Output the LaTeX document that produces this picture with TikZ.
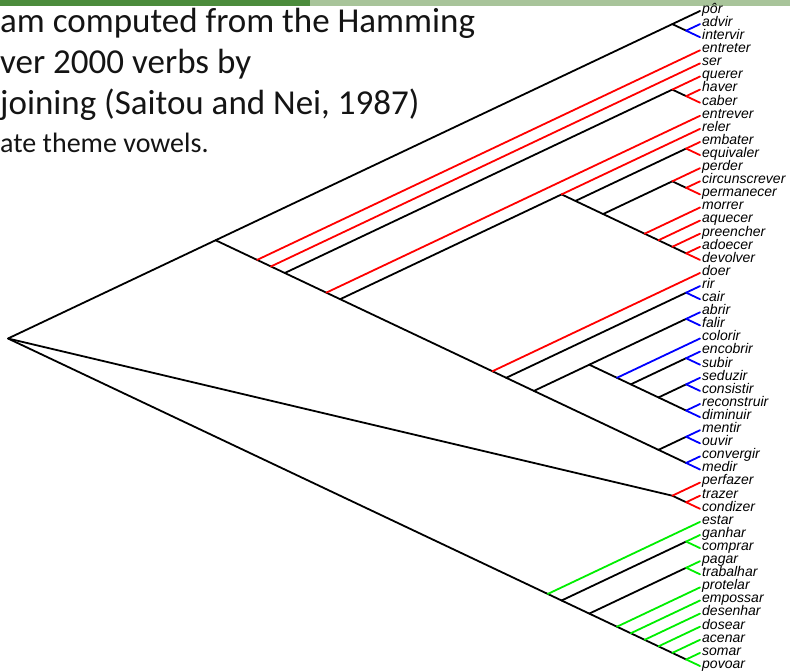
\documentclass[tikz,border=0pt]{standalone}
\usepackage{fontspec}
\setmainfont{Carlito}
\newfontfamily\leaffont{Liberation Sans}
\definecolor{barDark}{HTML}{4C8C3C}
\definecolor{barLight}{HTML}{A8C49A}
\definecolor{capText}{HTML}{141414}
\definecolor{verbEr}{HTML}{FF0000}
\definecolor{verbIr}{HTML}{0000FF}
\definecolor{verbAr}{HTML}{00EE00}
\tikzset{
  branch/.style={line width=1.8pt, line cap=round, black},
  leaf/.style={font=\leaffont\itshape\fontsize{14}{14}\selectfont, anchor=mid west,
               inner xsep=2pt, inner ysep=0pt},
  captionline/.style={anchor=base west, inner sep=0pt, text=capText},
}
\begin{document}
\begin{tikzpicture}[x=1pt,y=-1pt]
\useasboundingbox (0,0) rectangle (790,671);

% header bar
\fill[barDark] (0,0) rectangle (310,6);
\fill[barLight] (310,0) rectangle (790,6);

% caption text
\node[captionline, font=\fontsize{35}{35}\selectfont] (cap1) at (0,33) {am computed from the Hamming};
\node[captionline, font=\fontsize{35}{35}\selectfont] (cap2) at (0,74) {ver 2000 verbs by};
\node[captionline, font=\fontsize{35}{35}\selectfont] (cap3) at (0,115) {joining (Saitou and Nei, 1987)};
\node[captionline, font=\fontsize{28}{28}\selectfont] (cap4) at (0,153) {ate theme vowels.};

% leaves: tip at x=700, evenly spaced
\foreach \w [count=\i from 0] in {pôr, advir, intervir, entreter, ser, querer, haver, caber,
    entrever, reler, embater, equivaler, perder, circunscrever, permanecer, morrer, aquecer,
    preencher, adoecer, devolver, doer, rir, cair, abrir, falir, colorir, encobrir, subir,
    seduzir, consistir, reconstruir, diminuir, mentir, ouvir, convergir, medir, perfazer,
    trazer, condizer, estar, ganhar, comprar, pagar, trabalhar, protelar, empossar,
    desenhar, dosear, acenar, somar, povoar}
  \node[leaf] (v\i) at (700,{11+13.1*\i}) {\w};

% internal nodes of the cladogram, named by the range of tips they span
\foreach \a/\b in {0/50, 0/35, 0/2, 1/2, 3/35, 4/35, 5/35, 5/7, 6/7, 8/35, 9/35, 9/19,
    10/19, 10/11, 12/19, 12/14, 13/14, 15/19, 16/19, 17/19, 18/19, 20/35, 21/35, 21/22,
    23/35, 23/31, 23/24, 25/31, 26/31, 26/27, 28/31, 28/29, 30/31, 32/35, 32/33, 34/35,
    36/38, 37/38, 39/50, 40/50, 40/41, 42/50, 42/43, 44/50, 45/50, 46/50, 47/50, 48/50, 49/50}
  \coordinate (c\a-\b) at ({700-13.84*(\b-\a)},{11+6.55*(\a+\b)});

% internal branches
\foreach \p/\q in {0-50/0-35, 0-50/36-38, 0-50/39-50, 0-35/0-2, 0-35/3-35, 0-2/1-2,
    3-35/4-35, 4-35/5-35, 5-35/5-7, 5-35/8-35, 5-7/6-7, 8-35/9-35, 9-35/9-19, 9-35/20-35,
    9-19/10-19, 10-19/10-11, 10-19/12-19, 12-19/12-14, 12-19/15-19, 12-14/13-14,
    15-19/16-19, 16-19/17-19, 17-19/18-19, 20-35/21-35, 21-35/21-22, 21-35/23-35,
    23-35/23-31, 23-35/32-35, 23-31/23-24, 23-31/25-31, 25-31/26-31, 26-31/26-27,
    26-31/28-31, 28-31/28-29, 28-31/30-31, 32-35/32-33, 32-35/34-35, 36-38/37-38,
    39-50/40-50, 40-50/40-41, 40-50/42-50, 42-50/42-43, 42-50/44-50, 44-50/45-50,
    45-50/46-50, 46-50/47-50, 47-50/48-50, 48-50/49-50}
  \draw[branch] (c\p) -- (c\q);

% terminal branches, coloured by theme vowel
\foreach \p/\i/\col in {0-2/0/black, 1-2/1/verbIr, 1-2/2/verbIr,
    3-35/3/verbEr, 4-35/4/verbEr, 5-7/5/verbEr, 6-7/6/verbEr, 6-7/7/verbEr,
    8-35/8/verbEr, 9-19/9/verbEr, 10-11/10/verbEr, 10-11/11/verbEr, 12-14/12/verbEr,
    13-14/13/verbEr, 13-14/14/verbEr, 15-19/15/verbEr, 16-19/16/verbEr, 17-19/17/verbEr,
    18-19/18/verbEr, 18-19/19/verbEr, 20-35/20/verbEr,
    21-22/21/verbIr, 21-22/22/verbIr, 23-24/23/verbIr, 23-24/24/verbIr, 25-31/25/verbIr,
    26-27/26/verbIr, 26-27/27/verbIr, 28-29/28/verbIr, 28-29/29/verbIr, 30-31/30/verbIr,
    30-31/31/verbIr, 32-33/32/verbIr, 32-33/33/verbIr, 34-35/34/verbIr, 34-35/35/verbIr,
    36-38/36/verbEr, 37-38/37/verbEr, 37-38/38/verbEr,
    39-50/39/verbAr, 40-41/40/verbAr, 40-41/41/verbAr, 42-43/42/verbAr, 42-43/43/verbAr,
    44-50/44/verbAr, 45-50/45/verbAr, 46-50/46/verbAr, 47-50/47/verbAr, 48-50/48/verbAr,
    49-50/49/verbAr, 49-50/50/verbAr}
  \draw[branch, draw=\col] (c\p) -- (v\i.mid west);
\end{tikzpicture}
\end{document}
